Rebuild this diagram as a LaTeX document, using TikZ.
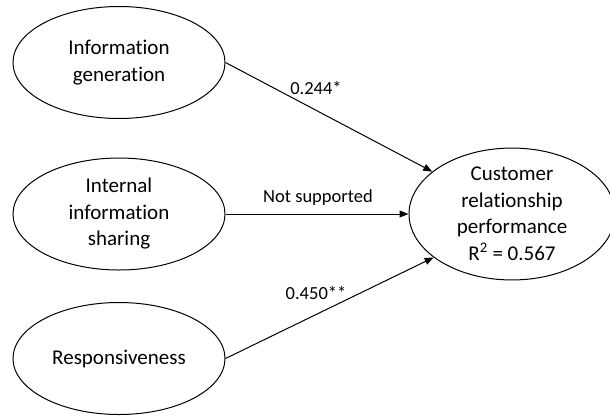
\documentclass[tikz,border=0pt]{standalone}
\usepackage{fontspec}
\setmainfont{Carlito}[Ligatures={NoCommon}]
\usetikzlibrary{shapes.geometric,arrows.meta}
\tikzset{
	construct/.style={draw,ellipse,line width=1pt,inner sep=0pt,
		minimum width=212pt,minimum height=112pt,align=center,
		font=\fontsize{21}{26.5}\selectfont},
	link/.style={line width=1pt,-{Triangle[length=9pt,width=7pt]}},
	coef/.style={font=\fontsize{18.5}{22}\selectfont}
}
\begin{document}
\begin{tikzpicture}[x=1pt,y=-1pt]
	\useasboundingbox (0,0) rectangle (610,416);
	\node[construct] (gen) at (119,62.5) {Information\\generation};
	\node[construct] (share) at (119,214) {Internal\\information\\sharing};
	\node[construct] (resp) at (119,358.5) {Responsiveness};
	\node[construct,minimum width=206pt,minimum height=113pt] (crp) at (512,214)
		{Customer\\relationship\\performance\\R\textsuperscript{2} = 0.567};
	\draw[link] (gen.east) -- (crp.152);
	\draw[link] (share.east) -- (crp.west);
	\draw[link] (resp.east) -- (crp.209);
	\node[coef] (c1) at (316,88) {0.244*};
	\node[coef] (c2) at (318,198) {Not supported};
	\node[coef] (c3) at (316,293) {0.450**};
\end{tikzpicture}
\end{document}
